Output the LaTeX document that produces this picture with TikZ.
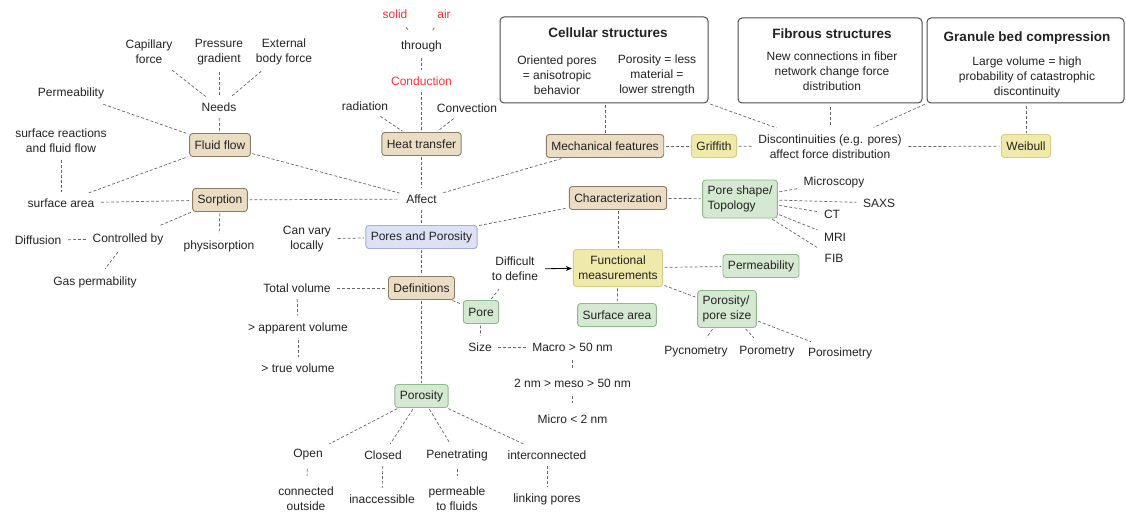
\documentclass[tikz,border=0pt]{standalone}
\usepackage{fontspec}
\setmainfont{Liberation Sans}
\usetikzlibrary{arrows.meta}

\definecolor{tanfill}{HTML}{EBDDC4}
\definecolor{tanline}{HTML}{8C7B66}
\definecolor{bluefill}{HTML}{DCE1F4}
\definecolor{blueline}{HTML}{A3AFD8}
\definecolor{yelfill}{HTML}{EFE9AA}
\definecolor{yelline}{HTML}{D5CD86}
\definecolor{grnfill}{HTML}{D5E8D1}
\definecolor{grnline}{HTML}{8DBB8A}
\definecolor{redtxt}{HTML}{FF3030}
\definecolor{ink}{HTML}{222222}

\tikzset{
  lbl/.style={inner sep=5pt, align=center, text=ink, font=\fontsize{12}{15}\selectfont},
  redlbl/.style={lbl, text=redtxt},
  box/.style={lbl, rounded corners=3pt, line width=0.9pt, minimum height=23pt,
              inner xsep=5pt, inner ysep=4pt},
  tanbox/.style={box, fill=tanfill, draw=tanline},
  bluebox/.style={box, fill=bluefill, draw=blueline},
  yelbox/.style={box, fill=yelfill, draw=yelline},
  grnbox/.style={box, fill=grnfill, draw=grnline},
  bigbox/.style={draw=black!70, line width=1pt, rounded corners=4pt, fill=white,
                 inner sep=0pt},
  title/.style={lbl, font=\bfseries\fontsize{13.5}{16}\selectfont},
  conn/.style={draw=black!60, line width=0.7pt, dash pattern=on 3pt off 2pt,
               shorten <=1.5pt, shorten >=1.5pt},
  arrowconn/.style={draw=black, line width=0.8pt, -{Stealth[length=6pt,width=5pt]},
                    shorten <=2pt, shorten >=1pt},
}

\begin{document}
\begin{tikzpicture}[x=1pt, y=-1pt]
\path[use as bounding box] (0,0) rectangle (1126,513);

% ---- framed boxes along the top ----
\node[bigbox, minimum width=208pt, minimum height=86pt] (cell) at (604,60) {};
\node[bigbox, minimum width=184pt, minimum height=85pt] (fibb) at (830,60.5) {};
\node[bigbox, minimum width=197pt, minimum height=85pt] (gran) at (1025.5,60.5) {};
\node[title] (cellt) at (608,33) {Cellular structures};
\node[lbl] (cella) at (557,75) {Oriented pores\\= anisotropic\\behavior};
\node[lbl] (cellb) at (657,75) {Porosity = less\\material =\\lower strength};
\node[title] (fibt) at (832,34) {Fibrous structures};
\node[lbl] (fibtx) at (832,71) {New connections in fiber\\network change force\\distribution};
\node[title] (grant) at (1027,38) {Granule bed compression};
\node[lbl] (grantx) at (1027,77) {Large volume = high\\probability of catastrophic\\discontinuity};

% ---- fluid flow branch ----
\node[lbl] (cap) at (149,52) {Capillary\\force};
\node[lbl] (pres) at (219,52) {Pressure\\gradient};
\node[lbl] (ext) at (284,52) {External\\body force};
\node[lbl] (needs) at (219,107) {Needs};
\node[lbl] (perma) at (71,93) {Permeability};
\node[tanbox] (ff) at (220,145) {Fluid flow};
\node[lbl] (surfr) at (61,141) {surface reactions\\and fluid flow};
\node[lbl] (surfa) at (61,203) {surface area};
\node[tanbox] (sorp) at (220,200) {Sorption};
\node[lbl] (phys) at (219,246) {physisorption};
\node[lbl] (ctrl) at (128,239) {Controlled by};
\node[lbl] (diff) at (38,240) {Diffusion};
\node[lbl] (gasp) at (95,282) {Gas permability};

% ---- heat transfer branch ----
\node[redlbl] (solid) at (395,14) {solid};
\node[redlbl] (air) at (444,14) {air};
\node[lbl] (thr) at (421.5,46) {through};
\node[redlbl] (cond) at (421.5,81) {Conduction};
\node[lbl] (rad) at (365,106) {radiation};
\node[lbl] (conv) at (467,108) {Convection};
\node[tanbox] (heat) at (421.5,144) {Heat transfer};
\node[lbl] (affect) at (421.5,199) {Affect};

% ---- centre ----
\node[bluebox] (pp) at (421.5,237) {Pores and Porosity};
\node[lbl] (can) at (307,239) {Can vary\\locally};
\node[tanbox] (defs) at (421.5,288) {Definitions};
\node[lbl] (totv) at (297,288) {Total volume};
\node[lbl] (appv) at (298,328) {> apparent volume};
\node[lbl] (truev) at (298,368) {> true volume};
\node[grnbox] (pore) at (481,312) {Pore};
\node[lbl] (size) at (480,347) {Size};
\node[lbl] (macro) at (572.5,347) {Macro > 50 nm};
\node[lbl] (meso) at (572.5,383) {2 nm > meso > 50 nm};
\node[lbl] (micro) at (572.5,419) {Micro < 2 nm};
\node[lbl] (dtd) at (515,269) {Difficult\\to define};

% ---- porosity types ----
\node[grnbox] (poros) at (421.5,396) {Porosity};
\node[lbl] (open) at (308,455) {Open};
\node[lbl] (closed) at (383,455) {Closed};
\node[lbl] (pen) at (457,455) {Penetrating};
\node[lbl] (inter) at (547,455) {interconnected};
\node[lbl] (openx) at (306,499) {connected\\outside};
\node[lbl] (closedx) at (382,499) {inaccessible};
\node[lbl] (penx) at (457,499) {permeable\\to fluids};
\node[lbl] (interx) at (547,499) {linking pores};

% ---- mechanics ----
\node[tanbox] (mech) at (605,146) {Mechanical features};
\node[yelbox] (grif) at (714,146) {Griffith};
\node[lbl] (disc) at (830,147) {Discontinuities (e.g. pores)\\affect force distribution};
\node[yelbox] (weib) at (1026,146) {Weibull};

% ---- characterization ----
\node[tanbox] (char) at (618,198) {Characterization};
\node[grnbox, align=left, minimum height=38pt] (pshape) at (740,199) {Pore shape/\\Topology};
\node[lbl] (mic) at (834,182) {Microscopy};
\node[lbl] (saxs) at (879,203) {SAXS};
\node[lbl] (ct) at (832,214) {CT};
\node[lbl] (mri) at (835,237) {MRI};
\node[lbl] (fib) at (834,258) {FIB};
\node[yelbox, minimum height=37pt] (func) at (618,268) {Functional\\measurements};
\node[grnbox] (permb) at (761,266) {Permeability};
\node[grnbox] (sarea) at (617,315) {Surface area};
\node[grnbox, align=left, minimum height=37pt] (psize) at (727,309) {Porosity/\\pore size};
\node[lbl] (pyc) at (696,352) {Pycnometry};
\node[lbl] (porom) at (767,352) {Porometry};
\node[lbl] (porosim) at (840,353) {Porosimetry};

% ---- connectors ----
\draw[conn] (cap) -- (needs);
\draw[conn] (pres) -- (needs);
\draw[conn] (ext) -- (needs);
\draw[conn] (needs) -- (ff);
\draw[conn] (perma) -- (ff);
\draw[conn] (surfa) -- (ff);
\draw[conn] (surfr) -- (surfa);
\draw[conn] (surfa) -- (sorp);
\draw[conn] (ff) -- (affect);
\draw[conn] (sorp) -- (affect);
\draw[conn] (sorp) -- (phys);
\draw[conn, shorten >=6pt] (sorp) -- (ctrl);
\draw[conn] (diff) -- (ctrl);
\draw[conn, shorten <=3pt, shorten >=3pt] (ctrl) -- (gasp);

\draw[conn, shorten <=5pt, shorten >=5pt] (solid) -- (thr);
\draw[conn, shorten <=5pt, shorten >=5pt] (air) -- (thr);
\draw[conn] (thr) -- (cond);
\draw[conn] (cond) -- (heat);
\draw[conn] (rad) -- (heat);
\draw[conn] (conv) -- (heat);
\draw[conn] (heat) -- (affect);
\draw[conn] (affect) -- (mech);
\draw[conn] (affect) -- (pp);

\draw[conn] (can) -- (pp);
\draw[conn] (pp) -- (char);
\draw[conn] (pp) -- (defs);
\draw[conn] (totv) -- (defs);
\draw[conn] (totv) -- (appv);
\draw[conn] (appv) -- (truev);
\draw[conn] (defs) -- (pore);
\draw[conn, shorten >=4pt] (pore) -- (dtd);
\draw[arrowconn] (dtd) -- (func);
\draw[conn] (pore) -- (size);
\draw[conn] (size) -- (macro);
\draw[conn, shorten <=4pt, shorten >=6pt] (macro) -- (meso);
\draw[conn, shorten <=4pt, shorten >=6pt] (meso) -- (micro);
\draw[conn] (defs) -- (poros);

\draw[conn] (poros) -- (open);
\draw[conn] (poros) -- (closed);
\draw[conn] (poros) -- (pen);
\draw[conn] (poros) -- (inter);
\draw[conn, shorten <=3pt, shorten >=6pt] (open) -- (openx);
\draw[conn] (closed) -- (closedx);
\draw[conn, shorten <=3pt, shorten >=6pt] (pen) -- (penx);
\draw[conn] (inter) -- (interx);

\draw[conn] (cell.south -| mech.north) -- (mech);
\draw[conn] (mech) -- (grif);
\draw[conn] (grif) -- (disc);
\draw[conn] (disc) -- (weib);
\draw[conn, shorten <=2pt, shorten >=6pt] (cell.south east) -- (disc);
\draw[conn, shorten <=4pt, shorten >=3pt] (fibb.south) -- (disc);
\draw[conn, shorten <=2pt, shorten >=6pt] (gran.south west) -- (disc);
\draw[conn, shorten <=3pt] (gran.south -| weib.north) -- (weib);

\draw[conn] (char) -- (pshape);
\draw[conn] (pshape) -- (mic);
\draw[conn] (pshape) -- (saxs);
\draw[conn] (pshape) -- (ct);
\draw[conn] (pshape) -- (mri);
\draw[conn] (pshape) -- (fib);
\draw[conn] (char) -- (func);
\draw[conn] (func) -- (sarea);
\draw[conn] (func) -- (permb);
\draw[conn] (func) -- (psize);
\draw[conn, shorten >=5pt] (psize) -- (pyc);
\draw[conn, shorten >=5pt] (psize) -- (porom);
\draw[conn] (psize) -- (porosim);
\end{tikzpicture}
\end{document}
